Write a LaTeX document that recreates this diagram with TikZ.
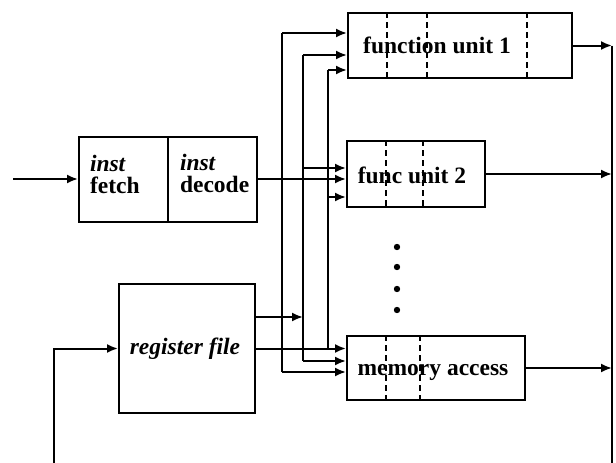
\documentclass[tikz,border=0pt]{standalone}
\usepackage{fontspec}
\setmainfont{Liberation Serif}
\usetikzlibrary{arrows.meta}
\begin{document}
\begin{tikzpicture}[x=1pt,y=-1pt,line width=2pt,
        >={Latex[length=11pt,width=9pt]},
        unit/.style={draw, inner sep=0pt},
        stage/.style={line width=1.6pt, dash pattern=on 6pt off 4pt},
        lbl/.style={font=\bfseries\fontsize{23.5}{22}\selectfont, inner sep=0pt}]
    \useasboundingbox (0,0) rectangle (616,463);
    % boxes
    \node[unit, minimum width=89pt, minimum height=85pt] (fetch) at (123.5,179) {};
    \node[unit, minimum width=89pt, minimum height=85pt] (decode) at (212.5,179) {};
    \node[unit, minimum width=136pt, minimum height=129pt] (regfile) at (187,348.5) {};
    \node[unit, minimum width=224pt, minimum height=65pt] (fu1) at (460,45.5) {};
    \node[unit, minimum width=138pt, minimum height=66pt] (fu2) at (416,174) {};
    \node[unit, minimum width=178pt, minimum height=64pt] (mem) at (436,368) {};
    % pipeline stages
    \foreach \d in {40,80,180}
        \draw[stage] ([xshift=\d pt]fu1.north west) -- ([xshift=\d pt]fu1.south west);
    \foreach \d in {40,77}
        \draw[stage] ([xshift=\d pt]fu2.north west) -- ([xshift=\d pt]fu2.south west);
    \foreach \d in {40,74}
        \draw[stage] ([xshift=\d pt]mem.north west) -- ([xshift=\d pt]mem.south west);
    % labels
    \node[lbl, anchor=west, align=left] (tfetch) at (89,174) {\textit{inst}\\fetch};
    \node[lbl, anchor=west, align=left] (tdecode) at (179,173) {\textit{inst}\\decode};
    \node[lbl, font=\bfseries\itshape\fontsize{23.5}{22}\selectfont] (tregfile) at (185,349) {register file};
    \node[lbl] (tfu1) at (437,45) {function unit 1};
    \node[lbl] (tfu2) at (412,175) {func unit 2};
    \node[lbl] (tmem) at (433,372) {memory access};
    \foreach \y in {247,267,289,310}
        \fill (397,\y) circle (3.2pt);
    % buses
    \coordinate (i1) at (282,33);
    \coordinate (i2) at (303,55);
    \coordinate (i3) at (328,70);
    \coordinate (m1) at (282,372);
    \coordinate (m2) at (303,361);
    \coordinate (m3) at (i3 |- regfile.east);
    \coordinate (f2a) at (303,168);
    \coordinate (f2c) at (328,197);
    \coordinate (r1) at (255,317);
    \coordinate (in) at (13,179);
    \coordinate (lb) at (54,463);
    \coordinate (rb) at (612,463);
    \draw[->] (in) -- (fetch.west);
    \draw[->] (decode.east) -- (decode.east -| fu2.west);
    \draw[->] (i1) -- (i1 -| fu1.west);
    \draw (i1) -- (m1);
    \draw[->] (m1) -- (m1 -| mem.west);
    \draw[->] (i2) -- (i2 -| fu1.west);
    \draw (i2) -- (m2);
    \draw[->] (m2) -- (m2 -| mem.west);
    \draw[->] (f2a) -- (f2a -| fu2.west);
    \draw[->] (r1) -- (r1 -| i2);
    \draw[->] (i3) -- (i3 -| fu1.west);
    \draw (i3) -- (m3);
    \draw[->] (f2c) -- (f2c -| fu2.west);
    \draw[->] (regfile.east) -- (regfile.east -| mem.west);
    % results back to the register file
    \draw[->] (fu1.east) -- (fu1.east -| rb);
    \draw (fu1.east -| rb) -- (rb);
    \draw[->] (fu2.east) -- (fu2.east -| rb);
    \draw[->] (mem.east) -- (mem.east -| rb);
    \draw[->] (lb) |- (regfile.west);
\end{tikzpicture}
\end{document}
